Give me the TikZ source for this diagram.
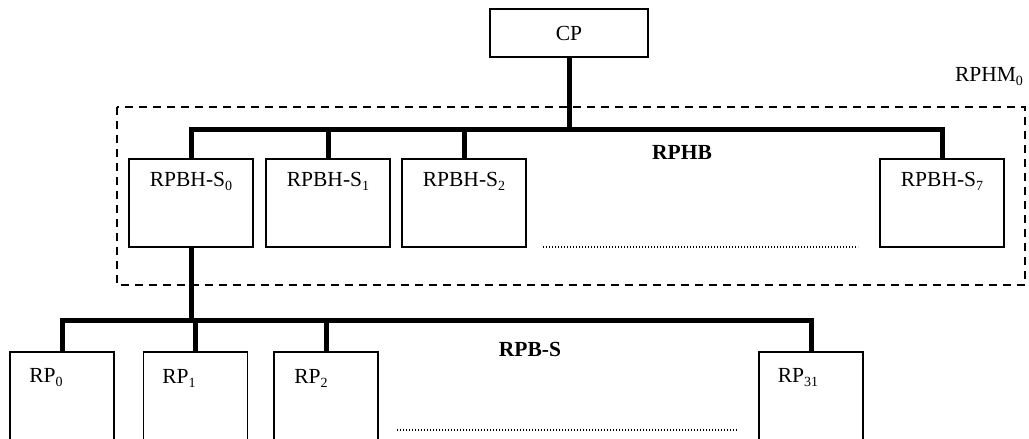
\documentclass[tikz,border=0pt]{standalone}
\usepackage{fontspec}
\setmainfont{Liberation Serif}
\newcommand{\idx}[1]{\raisebox{-4pt}{\fontsize{14}{14}\selectfont #1}}
\begin{document}
\begin{tikzpicture}[x=1pt,y=-1pt,
  every node/.style={font=\fontsize{21.5}{23}\selectfont, inner sep=0pt},
  unit/.style={draw, line width=1.6pt, rectangle, minimum width=124pt, minimum height=88pt},
  rpbox/.style={draw, line width=1.6pt, rectangle, minimum width=104pt, minimum height=120pt},
  bus/.style={line width=5pt, line cap=butt},
  group/.style={draw, line width=1.5pt, dash pattern=on 8pt off 6pt},
  gap/.style={line width=1.3pt, dash pattern=on 1pt off 2pt},
  boldtag/.style={font=\fontsize{21.5}{23}\selectfont\bfseries}]
\useasboundingbox (0,0) rectangle (1029,439);
\clip (0,0) rectangle (1029,439);

% control processor
\node[draw, line width=1.6pt, minimum width=158pt, minimum height=48pt] (cp) at (569,33) {CP};

% RPHM group frame
\draw[group] (117,107) rectangle (1025,285);
\node (rphm) at (989,77) {RPHM\idx{0}};

% hub boards
\node[unit] (s0) at (191,203) {};
\node[unit] (s1) at (328,203) {};
\node[unit] (s2) at (464,203) {};
\node[unit] (s7) at (942,203) {};
\foreach \n/\i in {s0/0,s1/1,s2/2,s7/7}
  \node (t\n) at ([yshift=-23pt]\n.north) {RPBH-S\idx{\i}};

% upper bus
\coordinate (hb) at (0,129);
\draw[bus] (s0.north) -- (s0.north |- hb) -- (s7.north |- hb) -- (s7.north);
\foreach \n in {s1,s2}
  \draw[bus] (\n.north) -- (\n.north |- hb);
\draw[bus] (cp.south) -- (cp.south |- hb);
\node[boldtag] (rphb) at (682,152) {RPHB};
\coordinate (ga) at (543,247);
\coordinate (gb) at (858,247);
\draw[gap] (ga) -- (gb);

% processors
\node[rpbox] (r0) at (62,412) {};
\node[rpbox] (r1) at (195.5,412) {};
\node[rpbox] (r2) at (326,412) {};
\node[rpbox] (r31) at (811,412) {};
\node (tr0) at (46,378) {RP\idx{0}};
\node (tr1) at (179,378) {RP\idx{1}};
\node (tr2) at (311,378) {RP\idx{2}};
\node (tr31) at (798,378) {RP\idx{31}};

% lower bus
\coordinate (lb) at (0,320);
\draw[bus] (r0.north) -- (r0.north |- lb) -- (r31.north |- lb) -- (r31.north);
\foreach \n in {r1,r2}
  \draw[bus] (\n.north) -- (\n.north |- lb);
\draw[bus] (s0.south) -- (s0.south |- lb);
\node[boldtag] (rpbs) at (530,349) {RPB-S};
\coordinate (gc) at (397,430);
\coordinate (gd) at (738,430);
\draw[gap] (gc) -- (gd);
\end{tikzpicture}
\end{document}
